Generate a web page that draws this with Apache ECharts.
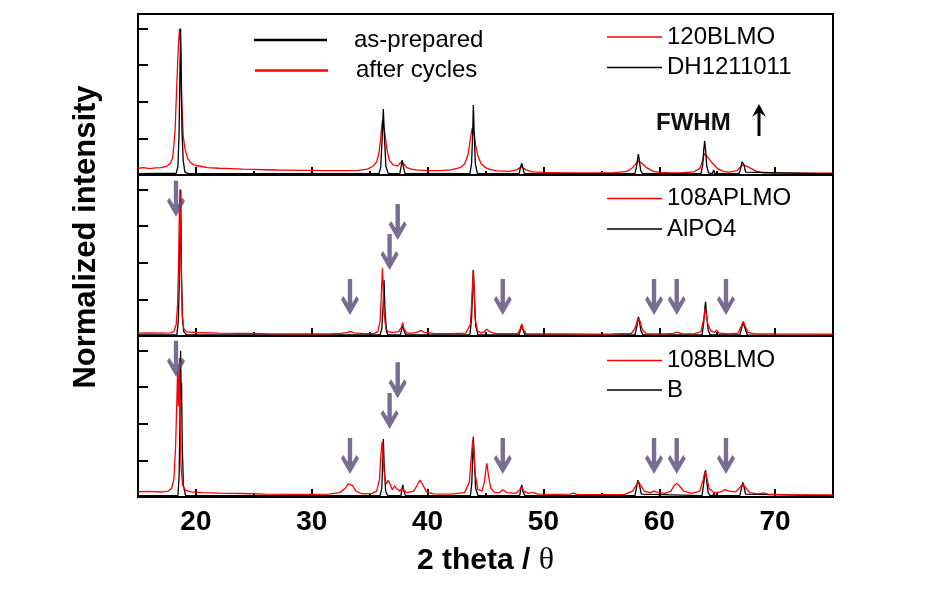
<!DOCTYPE html>
<html>
<head>
<meta charset="utf-8">
<script src="https://cdn.jsdelivr.net/npm/echarts@6/dist/echarts.min.js"></script>
<style>html,body{margin:0;padding:0;background:#fff}#c{width:930px;height:599px}</style>
</head>
<body>
<div id="c"></div>
<script>
// ---------- data (2theta, normalized intensity) ----------
const xTicksMajor = [20, 30, 40, 50, 60, 70];
const xTicksMinor = [25, 35, 45, 55, 65];
const yTicks = [0.25, 0.5, 0.75, 1.0];

const top_120BLMO = [[15,0.046],[15.5,0.05],[16,0.044],[16.5,0.048],[17,0.05],[17.5,0.06],[17.8,0.08],[18.0,0.12],[18.2,0.3],[18.35,0.62],[18.48,0.87],[18.58,1.0],[18.68,0.9],[18.78,0.5],[18.9,0.27],[19.05,0.18],[19.3,0.11],[19.6,0.08],[20,0.065],[20.5,0.058],[21,0.05],[22,0.046],[23,0.044],[24,0.04],[25,0.038],[26,0.036],[27,0.034],[28,0.033],[29,0.032],[30,0.031],[31,0.03],[32,0.03],[33,0.03],[34,0.032],[34.8,0.04],[35.3,0.06],[35.6,0.09],[35.8,0.15],[35.95,0.25],[36.05,0.34],[36.12,0.376],[36.2,0.34],[36.35,0.26],[36.5,0.17],[36.7,0.1],[37.0,0.07],[37.4,0.06],[37.6,0.08],[37.8,0.09],[37.95,0.075],[38.2,0.05],[38.6,0.04],[39,0.035],[40,0.03],[41,0.03],[42,0.035],[42.8,0.05],[43.2,0.075],[43.5,0.14],[43.7,0.25],[43.85,0.32],[43.92,0.33],[44.05,0.27],[44.15,0.2],[44.35,0.13],[44.6,0.08],[45,0.05],[45.5,0.035],[46,0.028],[47,0.025],[47.7,0.035],[48.1,0.057],[48.5,0.035],[49,0.022],[50,0.018],[52,0.015],[54,0.014],[56,0.014],[57.2,0.025],[57.7,0.05],[58.0,0.08],[58.2,0.096],[58.5,0.08],[58.9,0.05],[59.5,0.025],[60,0.018],[61,0.015],[62,0.016],[63,0.022],[63.5,0.045],[63.75,0.1],[63.9,0.148],[64.1,0.13],[64.3,0.11],[64.6,0.08],[65,0.045],[65.5,0.025],[66,0.02],[66.7,0.03],[67.0,0.055],[67.2,0.068],[67.5,0.062],[67.9,0.045],[68.4,0.025],[69,0.015],[70,0.013],[72,0.012],[75,0.012]];

const top_DH1211011 = [[15,0.01],[18.3,0.012],[18.45,0.06],[18.55,0.3],[18.62,0.7],[18.68,1.0],[18.74,0.6],[18.8,0.3],[18.9,0.1],[19.05,0.02],[19.3,0.01],[35.8,0.01],[35.95,0.05],[36.08,0.25],[36.18,0.451],[36.28,0.25],[36.4,0.06],[36.6,0.01],[37.6,0.01],[37.72,0.06],[37.8,0.102],[37.9,0.06],[38.05,0.01],[43.65,0.01],[43.8,0.08],[43.9,0.3],[43.95,0.478],[44.02,0.3],[44.12,0.08],[44.3,0.01],[47.9,0.01],[48.05,0.06],[48.13,0.08],[48.22,0.05],[48.35,0.01],[57.9,0.01],[58.05,0.06],[58.15,0.12],[58.2,0.143],[58.28,0.1],[58.4,0.03],[58.55,0.01],[63.6,0.01],[63.75,0.07],[63.85,0.18],[63.92,0.232],[64.0,0.17],[64.1,0.06],[64.25,0.015],[64.6,0.01],[64.7,0.035],[64.8,0.01],[66.9,0.01],[67.05,0.05],[67.15,0.09],[67.22,0.102],[67.32,0.07],[67.45,0.02],[67.6,0.01],[75,0.008]];

const mid_108APLMO = [[15,0.02],[16,0.022],[17,0.02],[17.8,0.022],[18.1,0.03],[18.3,0.08],[18.42,0.22],[18.5,0.5],[18.56,0.8],[18.62,1.0],[18.68,0.75],[18.74,0.4],[18.82,0.15],[18.95,0.05],[19.2,0.028],[20,0.024],[22,0.02],[24,0.018],[26,0.016],[28,0.015],[30,0.015],[31.5,0.015],[32.5,0.018],[33.1,0.025],[33.35,0.032],[33.6,0.022],[34.5,0.016],[35.4,0.018],[35.7,0.03],[35.9,0.1],[36.02,0.3],[36.1,0.462],[36.16,0.35],[36.25,0.15],[36.4,0.05],[36.6,0.03],[37.0,0.025],[37.5,0.03],[37.75,0.06],[37.85,0.091],[37.95,0.05],[38.2,0.02],[38.8,0.02],[39.2,0.03],[39.45,0.038],[39.7,0.025],[40.5,0.018],[42,0.016],[43.3,0.02],[43.7,0.08],[43.85,0.3],[43.93,0.45],[44.0,0.33],[44.1,0.12],[44.3,0.035],[44.6,0.02],[44.9,0.03],[45.1,0.046],[45.35,0.03],[45.8,0.018],[46.5,0.016],[47.8,0.018],[48.0,0.05],[48.13,0.082],[48.25,0.045],[48.5,0.016],[50,0.014],[52,0.015],[54,0.013],[56,0.014],[57.6,0.018],[57.95,0.06],[58.15,0.12],[58.24,0.132],[58.35,0.1],[58.55,0.04],[58.9,0.015],[60.5,0.014],[61.2,0.018],[61.55,0.027],[61.9,0.016],[63,0.015],[63.6,0.03],[63.85,0.12],[63.97,0.189],[64.05,0.15],[64.2,0.08],[64.45,0.035],[64.8,0.025],[64.95,0.04],[65.15,0.02],[66,0.015],[66.8,0.02],[67.1,0.07],[67.26,0.1],[67.4,0.07],[67.65,0.025],[68.2,0.015],[70,0.014],[75,0.013]];

const mid_AlPO4 = [[15,0.007],[18.35,0.008],[18.48,0.1],[18.56,0.35],[18.64,0.8],[18.69,1.0],[18.75,0.45],[18.84,0.12],[18.95,0.03],[19.2,0.008],[35.9,0.008],[36.05,0.05],[36.16,0.2],[36.24,0.382],[36.32,0.18],[36.45,0.03],[36.6,0.008],[37.65,0.008],[37.78,0.05],[37.86,0.075],[37.95,0.04],[38.1,0.008],[43.65,0.008],[43.8,0.12],[43.9,0.35],[43.96,0.451],[44.03,0.3],[44.15,0.07],[44.35,0.008],[47.9,0.008],[48.05,0.05],[48.13,0.08],[48.22,0.045],[48.4,0.008],[57.9,0.008],[58.08,0.07],[58.2,0.13],[58.27,0.11],[58.42,0.035],[58.6,0.008],[63.7,0.008],[63.85,0.1],[63.95,0.2],[64.0,0.234],[64.08,0.15],[64.22,0.04],[64.4,0.008],[66.95,0.008],[67.1,0.05],[67.22,0.095],[67.3,0.1],[67.42,0.05],[67.6,0.008],[75,0.006]];

const bot_108BLMO = [[15,0.036],[16,0.038],[17,0.034],[17.6,0.04],[17.9,0.06],[18.1,0.12],[18.25,0.35],[18.35,0.65],[18.42,0.86],[18.48,0.62],[18.53,0.75],[18.58,0.95],[18.63,0.55],[18.72,0.2],[18.85,0.08],[19.1,0.045],[19.6,0.035],[20.5,0.03],[22,0.027],[24,0.024],[26,0.02],[28,0.018],[30,0.018],[31.5,0.02],[32.4,0.03],[32.9,0.06],[33.15,0.09],[33.3,0.098],[33.5,0.08],[33.8,0.04],[34.3,0.022],[35.2,0.025],[35.6,0.04],[35.85,0.12],[35.98,0.3],[36.08,0.378],[36.17,0.28],[36.3,0.12],[36.45,0.09],[36.6,0.115],[36.75,0.09],[36.95,0.05],[37.15,0.075],[37.3,0.06],[37.45,0.07],[37.6,0.04],[37.8,0.06],[37.92,0.05],[38.2,0.03],[38.8,0.04],[39.1,0.08],[39.35,0.116],[39.6,0.08],[39.9,0.035],[40.5,0.022],[42,0.02],[43.2,0.03],[43.6,0.1],[43.8,0.3],[43.9,0.389],[43.98,0.33],[44.12,0.15],[44.35,0.05],[44.7,0.04],[44.9,0.1],[45.05,0.2],[45.12,0.23],[45.25,0.15],[45.45,0.06],[45.8,0.03],[46.2,0.03],[46.5,0.05],[46.8,0.03],[47.6,0.025],[47.95,0.05],[48.1,0.065],[48.3,0.04],[48.7,0.025],[49.1,0.032],[49.5,0.02],[51,0.018],[52.3,0.02],[52.6,0.026],[52.9,0.018],[55,0.016],[57,0.018],[57.7,0.04],[58.0,0.08],[58.2,0.107],[58.4,0.08],[58.7,0.04],[59.2,0.03],[59.55,0.04],[59.9,0.03],[60.5,0.025],[61.0,0.04],[61.3,0.08],[61.5,0.093],[61.75,0.075],[62.1,0.04],[62.8,0.025],[63.5,0.04],[63.8,0.12],[63.95,0.173],[64.08,0.14],[64.3,0.06],[64.7,0.03],[65.3,0.035],[65.7,0.05],[66.0,0.04],[66.6,0.035],[67.0,0.07],[67.2,0.09],[67.4,0.07],[67.8,0.03],[68.5,0.022],[69.0,0.028],[69.4,0.02],[71,0.015],[75,0.014]];

const bot_B = [[15,0.009],[18.45,0.01],[18.55,0.15],[18.62,0.5],[18.68,1.0],[18.72,0.7],[18.76,0.78],[18.82,0.35],[18.92,0.08],[19.1,0.01],[35.9,0.01],[36.05,0.06],[36.13,0.25],[36.18,0.396],[36.25,0.22],[36.38,0.04],[36.55,0.01],[37.7,0.01],[37.8,0.06],[37.86,0.083],[37.95,0.04],[38.1,0.01],[43.7,0.01],[43.82,0.1],[43.9,0.3],[43.95,0.412],[44.02,0.28],[44.15,0.06],[44.35,0.01],[47.95,0.01],[48.06,0.06],[48.13,0.083],[48.22,0.04],[48.4,0.01],[57.9,0.01],[58.05,0.07],[58.15,0.115],[58.2,0.123],[58.3,0.08],[58.45,0.02],[58.6,0.01],[63.7,0.01],[63.85,0.1],[63.95,0.17],[64.0,0.184],[64.08,0.12],[64.22,0.03],[64.4,0.01],[64.65,0.01],[64.72,0.03],[64.8,0.01],[66.95,0.01],[67.1,0.06],[67.22,0.1],[67.32,0.07],[67.45,0.02],[67.6,0.01],[75,0.008]];

// arrows marking new reflections (x position, tip height)
const arrowX = [18.28, 33.3, 36.72, 37.42, 46.49, 59.55, 61.51, 65.76];
const arrowTipMid = [0.815, 0.143, 0.451, 0.656, 0.143, 0.143, 0.143, 0.143];
const arrowTipBot = [0.822, 0.157, 0.465, 0.674, 0.157, 0.157, 0.157, 0.157];

// ---------- chart ----------
const FONT = '"Liberation Sans", Arial, sans-serif';
const gridTops = [14, 175, 336];
const grids = gridTops.map(t => ({left:138, right:97, top:t, height:161, show:true, borderColor:'#000', borderWidth:2, backgroundColor:'transparent'}));

const xAxes = [], yAxes = [];
for (let i = 0; i < 3; i++) {
  const isBottom = i === 2;
  xAxes.push({
    gridIndex:i, type:'value', min:15, max:75, interval:5, position:'bottom',
    axisLine:{show:true, lineStyle:{color:'#000', width:2}},
    axisTick:{show:true, inside:true, length:8, customValues:xTicksMajor, lineStyle:{color:'#000', width:2}},
    axisLabel:{show:isBottom, customValues:xTicksMajor, fontSize:28, fontWeight:'bold', fontFamily:FONT, color:'#000', margin:11},
    splitLine:{show:false},
    name: isBottom ? '2 theta / {t|θ}' : '',
    nameLocation:'middle', nameGap:48,
    nameTextStyle:{fontSize:30, fontWeight:'bold', fontFamily:FONT, color:'#000',
      rich:{t:{fontSize:32, fontWeight:'normal', fontFamily:'"Liberation Serif", "DejaVu Serif", serif', color:'#000'}}}
  });
  xAxes.push({
    gridIndex:i, type:'value', min:15, max:75, interval:5, position:'bottom', offset:0,
    axisLine:{show:false},
    axisTick:{show:true, inside:true, length:4, customValues:xTicksMinor, lineStyle:{color:'#000', width:2}},
    axisLabel:{show:false}, splitLine:{show:false}
  });
  yAxes.push({
    gridIndex:i, type:'value', min:0, max:1.1,
    axisLine:{show:true, lineStyle:{color:'#000', width:2}},
    axisTick:{show:true, inside:true, length:10, customValues:yTicks, lineStyle:{color:'#000', width:2}},
    axisLabel:{show:false}, splitLine:{show:false}
  });
}

function lineSeries(name, data, panel, color) {
  return {name, type:'line', data, xAxisIndex:panel*2, yAxisIndex:panel,
    showSymbol:false, symbol:'none', color, itemStyle:{color},
    lineStyle:{color, width:1.3}, animation:false, z:2};
}
const arrowPath = 'path://M7,0 L11.5,0 L11.5,24 L16,17 L18.5,20.5 L9.25,36 L0,20.5 L2.5,17 L7,24 Z';
function arrowSeries(tips, panel) {
  return {type:'scatter', xAxisIndex:panel*2, yAxisIndex:panel,
    data: arrowX.map((x, k) => [x, tips[k]]),
    symbol:arrowPath, symbolSize:[18,36], symbolOffset:[0,-18],
    itemStyle:{color:'#574878'}, z:10, animation:false, silent:true};
}

const series = [
  {name:'as-prepared', type:'line', data:[], xAxisIndex:0, yAxisIndex:0, color:'#000', itemStyle:{color:'#000'}},
  {name:'after cycles', type:'line', data:[], xAxisIndex:0, yAxisIndex:0, color:'#ff0000', itemStyle:{color:'#ff0000'}},
  lineSeries('120BLMO', top_120BLMO, 0, '#ff0000'),
  lineSeries('DH1211011', top_DH1211011, 0, '#000000'),
  lineSeries('AlPO4', mid_AlPO4, 1, '#000000'),
  lineSeries('108APLMO', mid_108APLMO, 1, '#ff0000'),
  lineSeries('B', bot_B, 2, '#000000'),
  lineSeries('108BLMO', bot_108BLMO, 2, '#ff0000'),
  arrowSeries(arrowTipMid, 1),
  arrowSeries(arrowTipBot, 2)
];

function leg(name, left, cy, w, h, padLeft) {
  return {data:[name], left, top:cy - 13, orient:'horizontal', icon:'rect',
    itemWidth:w, itemHeight:h, selectedMode:false, padding:0,
    textStyle:{fontSize:24, fontFamily:FONT, color:'#000', lineHeight:26, padding:[0,0,0,padLeft]}};
}
const legends = [
  leg('as-prepared', 254, 40, 73, 2.5, 22),
  leg('after cycles', 255, 70.5, 73, 2.5, 23),
  leg('120BLMO', 607, 37, 55, 1.5, 0),
  leg('DH1211011', 607, 67.5, 55, 1.5, 0),
  leg('108APLMO', 607, 198.5, 55, 1.5, 0),
  leg('AlPO4', 607, 229, 55, 1.5, 0),
  leg('108BLMO', 607, 360.5, 55, 1.5, 0),
  leg('B', 607, 390, 55, 1.5, 0)
];

const chart = echarts.init(document.getElementById('c'), null, {renderer:'canvas'});
chart.setOption({
  animation:false,
  backgroundColor:'#fff',
  grid:grids, xAxis:xAxes, yAxis:yAxes, legend:legends, series,
  graphic:[
    {type:'text', x:86, y:237, rotation:Math.PI/2,
      style:{text:'Normalized intensity', fontSize:31, fontWeight:'bold', fontFamily:FONT, fill:'#000', align:'center', verticalAlign:'middle'}},
    {type:'text', x:656, y:123,
      style:{text:'FWHM', fontSize:24, fontWeight:'bold', fontFamily:FONT, fill:'#111', align:'left', verticalAlign:'middle'}},
    {type:'line', shape:{x1:759, y1:136, x2:759, y2:108}, style:{stroke:'#000', lineWidth:3}},
    {type:'polygon', shape:{points:[[752,117],[759,104],[766,117],[759,112]]}, style:{fill:'#000'}}
  ]
});
</script>
</body>
</html>
